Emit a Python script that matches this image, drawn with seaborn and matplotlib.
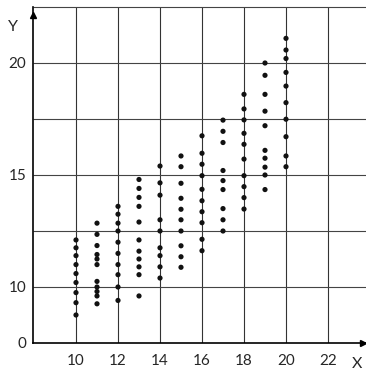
import numpy as np
import pandas as pd
import matplotlib
matplotlib.use("Agg")
import matplotlib.pyplot as plt
import seaborn as sns

# values, one list per x column
x_cols = [10, 11, 12, 13, 14, 15, 16, 17, 18, 19, 20]
y10 = [12.1, 11.75, 11.4, 11.0, 10.6, 10.2, 9.75, 9.3, 8.75]
y11 = [12.85, 12.35, 11.85, 11.45, 11.25, 11.0, 10.25, 10.0, 9.8, 9.6, 9.25]
y12 = [13.6, 13.25, 12.85, 12.5, 12.0, 11.5, 11.0, 10.55, 10.0, 9.4]
y13 = [14.8, 14.4, 14.0, 13.6, 12.9, 12.1, 11.6, 11.25, 10.9, 10.55, 9.6]
y14 = [15.4, 14.65, 14.1, 13.0, 12.5, 11.75, 11.4, 10.9, 10.4]
y15 = [15.85, 15.37, 14.63, 13.96, 13.47, 13.0, 12.5, 11.84, 11.35, 10.88]
y16 = [16.75, 15.97, 15.48, 14.97, 14.36, 13.85, 13.36, 12.87, 12.13, 11.62]
y17 = [17.45, 16.95, 16.45, 15.2, 14.75, 14.35, 13.5, 13.0, 12.5]
y18 = [18.6, 17.95, 17.46, 16.86, 16.37, 15.71, 14.97, 14.48, 13.99, 13.48]
y19 = [20.0, 19.45, 18.6, 17.85, 17.2, 16.1, 15.75, 15.35, 15.0, 14.35]
y20 = [21.1, 20.58, 20.2, 19.58, 18.97, 18.23, 17.49, 16.71, 15.85, 15.37]
y_cols = [y10, y11, y12, y13, y14, y15, y16, y17, y18, y19, y20]

x_ticks = [10, 12, 14, 16, 18, 20, 22]
x_minor = [11, 13, 15, 17, 19, 21]
y_grid = [10, 12.5, 15, 17.5, 20, 22.5]
y_ticks = [7.5, 10, 15, 20]
y_tick_labels = ["0", "10", "15", "20"]

df = pd.DataFrame({
    "x": np.repeat(x_cols, [len(c) for c in y_cols]),
    "y": np.concatenate(y_cols),
})

sns.set_style("white")
plt.rcParams["font.family"] = ["Lato", "DejaVu Sans"]

W, H = 366, 374
fig = plt.figure(figsize=(W / 100, H / 100), dpi=100)
ax = fig.add_axes([33 / W, 31 / H, 333 / W, 343 / H])

xmin, xmax = 10 - 43 / 21, 10 + 290 / 21
ymin, ymax = 7.5, 10 + 287 / 22.4

# grid drawn by hand so it stops at the top line
ax.vlines(x_ticks, ymin, 22.5, color="#333333", lw=0.8, zorder=1)
ax.hlines(y_grid, xmin, xmax, color="#444444", lw=0.8, zorder=1)

sns.scatterplot(data=df, x="x", y="y", ax=ax, color="#111111", s=14,
                edgecolor="none", linewidth=0, zorder=3, legend=False)

ax.set_xlim(xmin, xmax)
ax.set_ylim(ymin, ymax)

ax.set_xticks(x_ticks)
ax.set_xticklabels([str(t) for t in x_ticks], fontsize=11)
ax.set_xticks(x_minor, minor=True)
ax.tick_params(axis="x", which="major", length=0, pad=8)
ax.tick_params(axis="x", which="minor", direction="in", length=12, width=0.8, color="#333333")
ax.set_yticks(y_ticks)
ax.set_yticklabels(y_tick_labels, fontsize=11)
ax.tick_params(axis="y", length=0, pad=5)
ax.set_xlabel("")
ax.set_ylabel("")

for s in ["top", "right"]:
    ax.spines[s].set_visible(False)
for s in ["left", "bottom"]:
    ax.spines[s].set_color("black")
    ax.spines[s].set_linewidth(1.2)
ax.spines["left"].set_bounds(ymin, 22.5)

# arrow heads
ax.plot(xmax - 0.12, ymin, marker=">", color="black", ms=5, clip_on=False, zorder=5)
ax.plot(xmin, 22.15, marker="^", color="black", ms=5, clip_on=False, zorder=5)

fig.text(12.5 / W, 1 - 27 / H, "Y", fontsize=11.5, ha="center", va="center")
fig.text(357 / W, 1 - 364 / H, "X", fontsize=11.5, ha="center", va="center")

fig.savefig("out.png", dpi=100)
